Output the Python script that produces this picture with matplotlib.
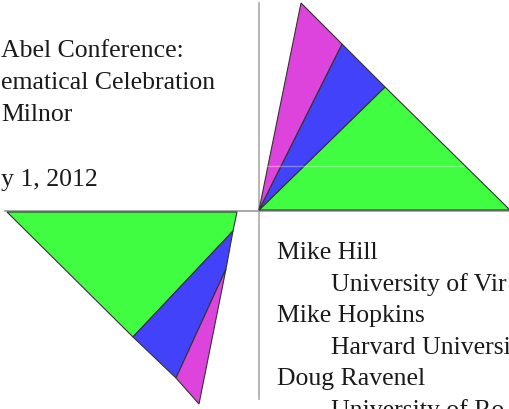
import matplotlib.pyplot as plt
from matplotlib.patches import Polygon

# pixel coordinates of the slide (x right, y down)
W, H = 510, 410

# upper-right fan: origin, hypotenuse points
UR_GREEN = [(259, 211), (385, 88), (510, 211)]
UR_BLUE = [(259, 211), (342, 45), (385, 88)]
UR_MAGENTA = [(259, 211), (301, 4), (342, 45)]

# lower-left fan
LL_GREEN = [(7, 213), (237, 213), (233, 232), (133, 338)]
LL_BLUE = [(233, 232), (226, 270), (176, 379), (133, 338)]
LL_MAGENTA = [(226, 270), (199, 405), (176, 379)]

GREEN = "#41fd41"
BLUE = "#4242fb"
MAGENTA = "#dc44dc"

# left block (the slide is cropped at its left edge)
LEFT_LINES = ["Abel Conference:", "ematical Celebration", "Milnor", "y 1, 2012"]
LEFT_X = [1, 1, 1, 1]
LEFT_BASE = [57, 89, 121, 186]

# right block (cropped at the right and bottom edges)
RIGHT_LINES = ["Mike Hill", "University of Vir", "Mike Hopkins",
               "Harvard Universi", "Doug Ravenel", "University of Ro"]
RIGHT_X = [277, 331, 277, 331, 277, 331]
RIGHT_BASE = [259, 291, 322, 354, 385, 417]

FONT = "Liberation Serif"
FS = 25.7 * 72 / 100

fig = plt.figure(figsize=(W / 100, H / 100), dpi=100)
ax = fig.add_axes([0, 0, 1, 1])
ax.set_xlim(0, W)
ax.set_ylim(H, 0)
ax.axis("off")

# axes lines
ax.plot([259, 259], [4, 400], color="#aaaaaa", lw=1.2, zorder=1)
ax.plot([5, W], [212, 212], color="#999999", lw=1.2, zorder=1)

for pts, col in [(UR_GREEN, GREEN), (UR_BLUE, BLUE), (UR_MAGENTA, MAGENTA),
                 (LL_GREEN, GREEN), (LL_BLUE, BLUE), (LL_MAGENTA, MAGENTA)]:
    ax.add_patch(Polygon(pts, closed=True, facecolor=col, edgecolor="#333333",
                         lw=0.8, zorder=2))

# faint artefact line across the big green triangle
ax.plot([267, 463], [167, 167], color="white", lw=1.0, alpha=0.35, zorder=3)

for s, x, y in zip(LEFT_LINES, LEFT_X, LEFT_BASE):
    ax.text(x, y, s, ha="left", va="baseline", fontsize=FS, family=FONT,
            color="#1a1a1a")

for s, x, y in zip(RIGHT_LINES, RIGHT_X, RIGHT_BASE):
    t = ax.text(x, y, s, ha="left", va="baseline", fontsize=FS, family=FONT,
                color="#1a1a1a")
    t.set_clip_on(True)

fig.savefig("out.png", dpi=100)
